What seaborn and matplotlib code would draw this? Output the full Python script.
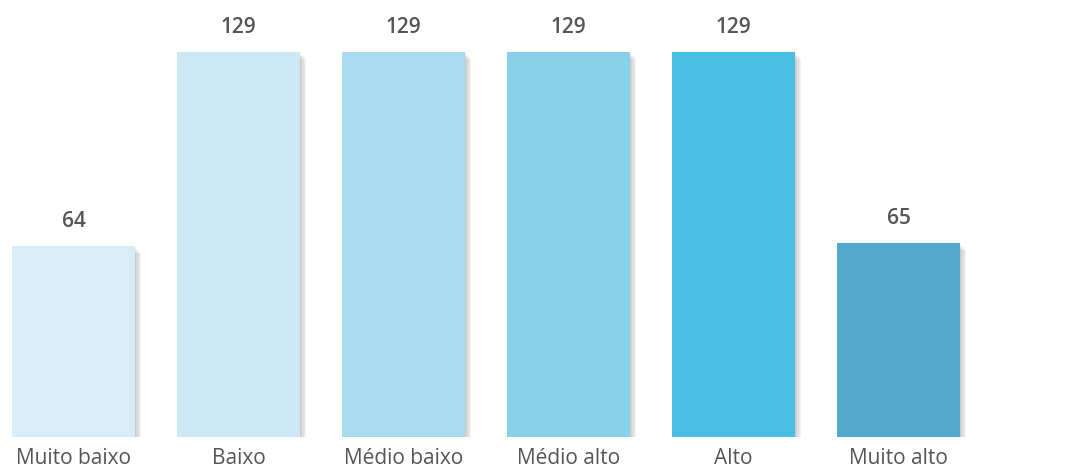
import pandas as pd
import seaborn as sns
import matplotlib.pyplot as plt
import matplotlib.patheffects as pe

# Daten
categorias = ["Muito baixo", "Baixo", "Médio baixo", "Médio alto", "Alto", "Muito alto"]
valores = [64, 129, 129, 129, 129, 65]
cores = ["#d7eef8", "#cde9f5", "#a9dbee", "#87d1ea", "#48bee5", "#55a9cd"]

df = pd.DataFrame({"categoria": categorias, "valor": valores})

sns.set_style("white")
plt.rcParams["font.family"] = ["Open Sans", "DejaVu Sans"]

fig = plt.figure(figsize=(10.89, 4.70), dpi=100)
ax = fig.add_axes([0, 33 / 470, 1, 437 / 470])

sns.barplot(
    data=df, x="categoria", y="valor", hue="categoria",
    palette=dict(zip(categorias, cores)), width=0.74,
    legend=False, ax=ax, saturation=1, linewidth=0
)

# weicher Schatten (mehrere Lagen)
schatten = [pe.SimplePatchShadow(offset=(d, -d), shadow_rgbFace="#000000", alpha=0.045)
            for d in (1, 2, 3, 4, 5)]
for p in ax.patches:
    p.set_path_effects(schatten + [pe.Normal()])

for i, v in enumerate(valores):
    ax.annotate(str(v), (i, v), xytext=(0, 10), textcoords="offset points",
                ha="center", va="bottom", fontsize=15, fontweight="semibold",
                color="#555555")

ax.set_xlim(-73.5 / 165, (1089 - 73.5) / 165)
ax.set_ylim(0, 437 / 2.985)
ax.set_xlabel("")
ax.set_ylabel("")
ax.set_yticks([])
ax.tick_params(axis="x", length=0, pad=8, labelsize=15, labelcolor="#555555")
sns.despine(ax=ax, left=True, bottom=True)

fig.savefig("out.png", dpi=100)
